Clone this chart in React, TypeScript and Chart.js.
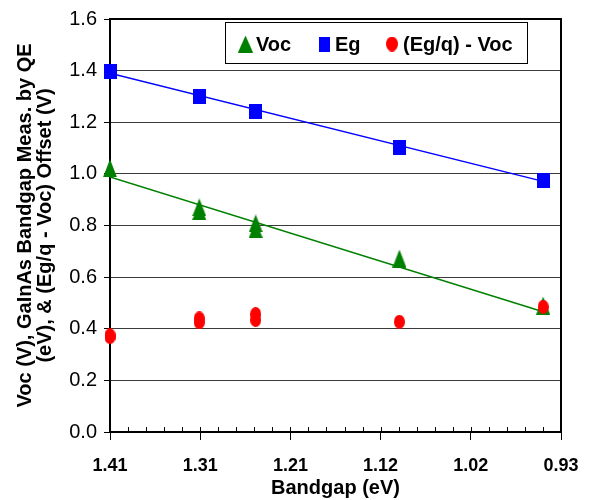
import React, { useEffect, useRef } from "react";
import { Chart, registerables } from "chart.js";

Chart.register(...registerables);

// ---- data ----
const xTickValues = [1.405, 1.309, 1.213, 1.117, 1.021, 0.925];
const xTickLabels = ["1.41", "1.31", "1.21", "1.12", "1.02", "0.93"];

const vocX = [1.405, 1.31, 1.31, 1.25, 1.25, 1.097, 0.944];
const vocY = [1.022, 0.87, 0.856, 0.808, 0.786, 0.672, 0.49];

const egX = [1.405, 1.31, 1.25, 1.097, 0.944];
const egY = [1.395, 1.3, 1.243, 1.104, 0.975];

const offX = [1.405, 1.405, 1.31, 1.31, 1.25, 1.25, 1.097, 0.944];
const offY = [0.375, 0.368, 0.44, 0.425, 0.457, 0.434, 0.427, 0.485];

const egFitX = [1.405, 0.944];
const egFitY = [1.39, 0.971];
const vocFitX = [1.405, 0.944];
const vocFitY = [0.988, 0.466];

const legendLabels = ["Voc", "Eg", "(Eg/q) - Voc"];

const FONT = "'Liberation Sans', Arial, Helvetica, sans-serif";
const GREEN = "#008000";
const BLUE = "#0000FF";
const RED = "#FF0000";

function pts(xs: number[], ys: number[]) {
  return xs.map((x, i) => ({ x, y: ys[i] }));
}

function marker(shape: string, w: number, h: number, color: string) {
  const c = document.createElement("canvas");
  c.width = w;
  c.height = h;
  const g = c.getContext("2d")!;
  g.fillStyle = color;
  g.beginPath();
  if (shape === "triangle") {
    g.moveTo(w / 2, 0);
    g.lineTo(w, h);
    g.lineTo(0, h);
    g.closePath();
  } else if (shape === "rect") {
    g.rect(0, 0, w, h);
  } else {
    g.ellipse(w / 2, h / 2, w / 2, h / 2, 0, 0, Math.PI * 2);
  }
  g.fill();
  return c;
}

export default function App() {
  const ref = useRef<HTMLCanvasElement | null>(null);

  useEffect(() => {
    if (!ref.current) return;
    const tri = marker("triangle", 14, 18, GREEN);
    const sq = marker("rect", 13, 15, BLUE);
    const circ = marker("circle", 11, 14, RED);

    const frame = {
      id: "frame",
      afterDatasetsDraw(chart: any) {
        const { ctx, chartArea: a, scales } = chart;
        const xs = scales.x;
        ctx.save();
        // top & right border
        ctx.strokeStyle = "#000";
        ctx.lineWidth = 2;
        ctx.beginPath();
        ctx.moveTo(a.left, a.top);
        ctx.lineTo(a.right, a.top);
        ctx.lineTo(a.right, a.bottom);
        ctx.stroke();
        // inner minor ticks on x axis
        ctx.lineWidth = 1;
        ctx.beginPath();
        for (let i = 0; i < xTickValues.length - 1; i++) {
          const v0 = xTickValues[i];
          const v1 = xTickValues[i + 1];
          for (let k = 0; k <= 5; k++) {
            const v = v0 + ((v1 - v0) * k) / 5;
            const px = Math.round(xs.getPixelForValue(v)) + 0.5;
            ctx.moveTo(px, a.bottom);
            ctx.lineTo(px, a.bottom - 5);
          }
        }
        ctx.stroke();
        // legend
        const bx = 225, by = 22, bw = 302, bh = 41;
        ctx.fillStyle = "#fff";
        ctx.fillRect(bx, by, bw, bh);
        ctx.strokeStyle = "#000";
        ctx.lineWidth = 1;
        ctx.strokeRect(bx + 0.5, by + 0.5, bw, bh);
        const cy = 44;
        const items = [
          { m: marker("triangle", 15, 17, GREEN), cx: 245.5, tx: 256 },
          { m: marker("rect", 11, 15, BLUE), cx: 324.5, tx: 335 },
          { m: marker("circle", 12, 15, RED), cx: 392, tx: 403 },
        ];
        ctx.font = `bold 20px ${FONT}`;
        ctx.fillStyle = "#000";
        ctx.textAlign = "left";
        ctx.textBaseline = "middle";
        items.forEach((it, i) => {
          ctx.drawImage(it.m, it.cx - it.m.width / 2, cy - it.m.height / 2);
          ctx.fillText(legendLabels[i], it.tx, cy + 1);
        });
        ctx.restore();
      },
    };

    const chart = new Chart(ref.current, {
      type: "scatter",
      data: {
        datasets: [
          {
            label: legendLabels[2],
            data: pts(offX, offY),
            pointStyle: circ as any,
            pointRadius: 7,
            backgroundColor: RED,
            borderColor: RED,
            order: 0,
            clip: false as any,
          },
          {
            label: legendLabels[1],
            data: pts(egX, egY),
            pointStyle: sq as any,
            pointRadius: 7,
            backgroundColor: BLUE,
            borderColor: BLUE,
            order: 1,
            clip: false as any,
          },
          {
            label: legendLabels[0],
            data: pts(vocX, vocY),
            pointStyle: tri as any,
            pointRadius: 8,
            backgroundColor: GREEN,
            borderColor: GREEN,
            order: 2,
            clip: false as any,
          },
          {
            label: "Eg fit",
            data: pts(egFitX, egFitY),
            showLine: true,
            pointRadius: 0,
            borderColor: BLUE,
            borderWidth: 1.5,
            order: 3,
          },
          {
            label: "Voc fit",
            data: pts(vocFitX, vocFitY),
            showLine: true,
            pointRadius: 0,
            borderColor: GREEN,
            borderWidth: 1.5,
            order: 4,
          },
        ],
      },
      options: {
        responsive: false,
        animation: false,
        layout: { padding: { top: 16, right: 34, left: 0, bottom: 0 } },
        plugins: {
          legend: { display: false },
          tooltip: { enabled: false },
        },
        scales: {
          x: {
            type: "linear",
            reverse: true,
            min: 0.925,
            max: 1.405,
            afterBuildTicks: (s: any) => {
              s.ticks = xTickValues.map((v) => ({ value: v }));
            },
            afterFit: (s: any) => {
              s.height = 68;
            },
            ticks: {
              autoSkip: false,
              maxRotation: 0,
              padding: 15,
              color: "#000",
              font: { family: FONT, size: 18, weight: "bold" },
              callback: (v: any, i: number) => xTickLabels[i],
            },
            grid: {
              drawOnChartArea: false,
              drawTicks: true,
              tickLength: 8,
              color: "#000",
              lineWidth: 1,
            },
            border: { display: true, color: "#000", width: 2 },
            title: {
              display: true,
              text: "Bandgap (eV)",
              color: "#000",
              font: { family: FONT, size: 20, weight: "bold" },
              padding: { top: 0, bottom: 0 },
            },
          },
          y: {
            type: "linear",
            min: 0,
            max: 1.6,
            afterFit: (s: any) => {
              s.width = 110;
            },
            ticks: {
              stepSize: 0.2,
              padding: 7,
              color: "#000",
              font: { family: FONT, size: 20 },
              callback: (v: any) => Number(v).toFixed(1),
            },
            grid: {
              color: "#3a3a3a",
              lineWidth: 1,
              drawTicks: true,
              tickLength: 6,
              tickColor: "#000",
            },
            border: { display: true, color: "#000", width: 2 },
            title: {
              display: true,
              text: [
                "Voc (V), GaInAs Bandgap Meas. by QE",
                "(eV), & (Eg/q - Voc) Offset (V)",
              ],
              color: "#000",
              font: { family: FONT, size: 20, weight: "bold", lineHeight: 1.0 },
              padding: { top: 15, bottom: 0 },
            },
          },
        },
      },
      plugins: [frame],
    } as any);

    return () => chart.destroy();
  }, []);

  return (
    <div style={{ position: "fixed", left: 0, top: 0, width: 595, height: 500, background: "#fff" }}>
      <canvas ref={ref} width={595} height={500} style={{ display: "block" }} />
    </div>
  );
}
